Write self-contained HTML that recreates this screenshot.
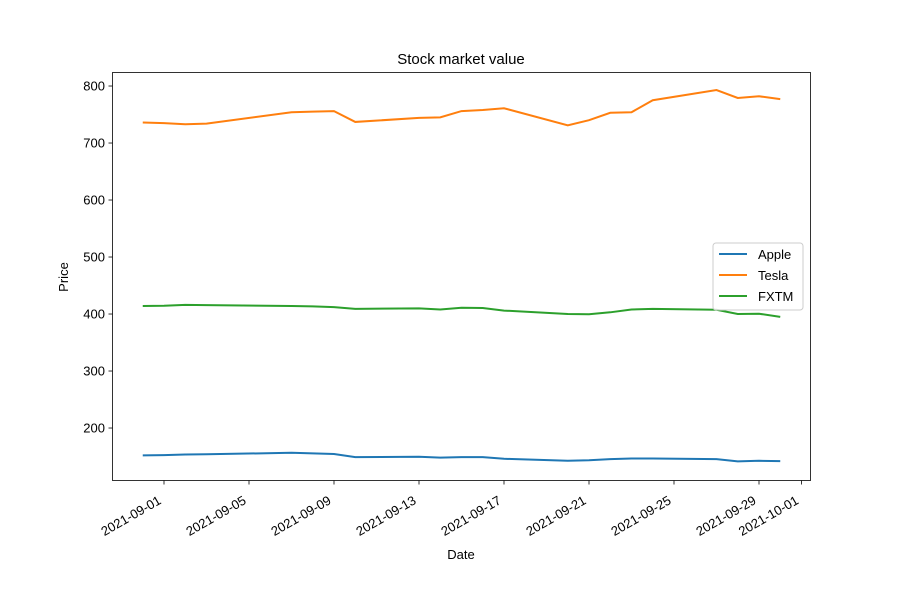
<!DOCTYPE html>
<html><head><meta charset="utf-8"><style>body{margin:0;background:#fff}svg{font-family:"Liberation Sans","DejaVu Sans",sans-serif}</style></head>
<body>
<svg id="chart" width="900" height="600">
<rect width="900" height="600" fill="#fff"/>
<text x="461" y="64" font-size="15" text-anchor="middle">Stock market value</text>
<g id="grid"></g>
<g id="series"></g>
<rect x="112.5" y="72.5" width="698" height="408" fill="none" stroke="#000" stroke-width="0.8"/>
<text x="461" y="559" font-size="13" text-anchor="middle">Date</text>
<text transform="translate(68,277) rotate(-90)" font-size="13" text-anchor="middle">Price</text>
<g>
<rect x="713" y="243" width="90" height="67" rx="3" fill="#fff" fill-opacity="0.8" stroke="#ccc"/>
<g><line x1="719" x2="747" y1="254" y2="254" stroke="#1f77b4" stroke-width="2"/><text x="758" y="259" font-size="13">Apple</text></g>
<g><line x1="719" x2="747" y1="275" y2="275" stroke="#ff7f0e" stroke-width="2"/><text x="758" y="280" font-size="13">Tesla</text></g>
<g><line x1="719" x2="747" y1="296" y2="296" stroke="#2ca02c" stroke-width="2"/><text x="758" y="301" font-size="13">FXTM</text></g>
</g>
</svg>
<script>
const dates=["2021-08-31","2021-09-01","2021-09-02","2021-09-03","2021-09-07","2021-09-08","2021-09-09","2021-09-10","2021-09-13","2021-09-14","2021-09-15","2021-09-16","2021-09-17","2021-09-20","2021-09-21","2021-09-22","2021-09-23","2021-09-24","2021-09-27","2021-09-28","2021-09-29","2021-09-30"];
const apple=[152,152.5,153.5,154,156.5,155.5,154.5,149,149.5,148,149,149,146,142.5,143.5,145.5,146.5,146.5,145.5,141.5,142.5,142];
const tesla=[736,735,733,734,754,755,756,737,744,745,756,758,761,731,740,753,754,775,793,779,782,777];
const fxtm=[414,414.5,416,415.5,414,413.5,412,409,410,408,411,410.5,406,400,399.5,403,408,409,407.5,400,400.5,395];
const yTicks=[200,300,400,500,600,700,800];
const xTicks=["2021-09-01","2021-09-05","2021-09-09","2021-09-13","2021-09-17","2021-09-21","2021-09-25","2021-09-29","2021-10-01"];
const NS="http://www.w3.org/2000/svg";
const day=d=>Date.parse(d+"T00:00:00Z")/86400000;
const d0=day("2021-09-01");
const xs=d=>164+(day(d)-d0)*21.25;
const ys=v=>480-(v-108.8)*0.57;
const grid=document.getElementById('grid'),ser=document.getElementById('series');
function mk(t,a,p){const e=document.createElementNS(NS,t);for(const k in a)e.setAttribute(k,a[k]);p.appendChild(e);return e;}
yTicks.forEach(v=>{const y=ys(v);
const l=mk('line',{x1:108.5,x2:112.5,y1:y,y2:y,stroke:'#000','stroke-width':0.8},grid);


const t=mk('text',{x:105,y:y+4.5,'font-size':13,'text-anchor':'end'},grid);t.textContent=v;

});
xTicks.forEach(d=>{const x=xs(d);
const l=mk('line',{x1:x,x2:x,y1:480.5,y2:484.5,stroke:'#000','stroke-width':0.8},grid);


const t=mk('text',{transform:`translate(${x-2},${503}) rotate(-30)`,'font-size':13,'text-anchor':'end'},grid);t.textContent=d;

});
[[apple,'#1f77b4','apple-line'],[tesla,'#ff7f0e','tesla-line'],[fxtm,'#2ca02c','fxtm-line']].forEach(([vals,c,n])=>{
const p=mk('polyline',{points:vals.map((v,i)=>xs(dates[i])+','+ys(v)).join(' '),fill:'none',stroke:c,'stroke-width':2},ser);

});
</script>
</body></html>
